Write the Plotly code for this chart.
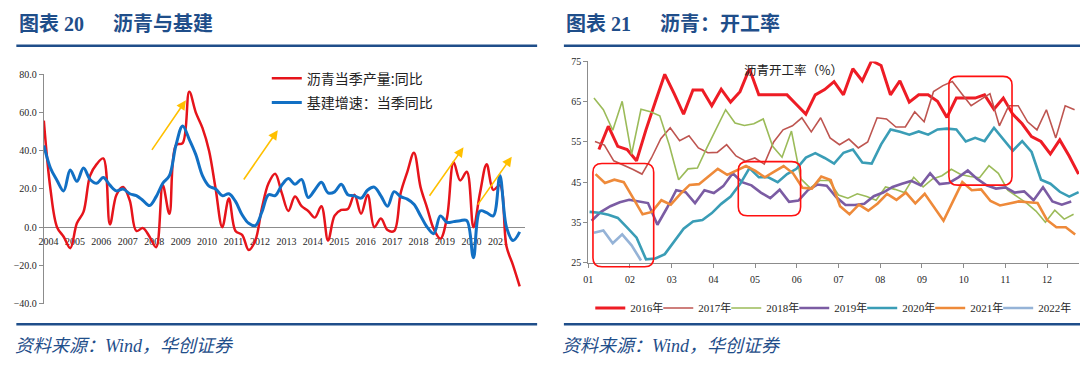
import numpy as np
import plotly.graph_objects as go

W, H = 1080, 377
def px(x): return x / W
def py(y): return 1 - y / H

# ---------------- left chart data (quarterly, 2004Q1 .. 2022Q1) ----------------
years = list(range(2004, 2022))
asphalt_yoy = [55.8, 20, 0, -5, -11, 2, 8, 27, 33, 36,
               1.5, 17, 21, 14, -2, -0.5, -5, -10.5, 22, 7,
               43, 44, 71, 60, 52, 40, 20, 0, 15, -2,
               -4, -12, -7, 10, 23, 28, 18, 8.5, 16, 11,
               8.5, 5, 11, -7, 6, 9, 9.5, 17, 7, 17,
               0, 4.5, -1.5, -2, 18, 29, 39, 21, 10, -1,
               -6, 5, 34, 24.5, 29, 0, 18, 33, 19.5, 22,
               -10, -20, -31]
infra_yoy = [42.8, 31, 24.5, 19, 30, 24, 31, 25, 23, 26,
             22, 19, 20, 17.5, 16.5, 14, 11.3, 16, 23, 27,
             43, 53, 46, 38, 27, 21.5, 20, 16.5, 17.5, 13.5,
             6.5, 2, 0.8, 8, 17, 16.5, 22, 25.5, 22.5, 25,
             15.5, 19.5, 23.5, 18, 18.5, 22.5, 17, 16.4, 15.2, 19.5,
             21, 16.4, 11, 18.6, 16, 14.7, 12, 6, 0, -3.4,
             5.9, 2.5, 2.9, 3.4, 3.4, -16, 8.5, 7.6, 5.9, 27,
             0, -7, -2.5]
left_names = ["沥青当季产量:同比", "基建增速：当季同比"]

# ---------------- right chart data (weekly operating rate, %) ----------------
month_labels = ["01", "02", "03", "04", "05", "06", "07", "08", "09", "10", "11", "12"]
series_names = ["2016年", "2017年", "2018年", "2019年", "2020年", "2021年", "2022年"]
WEEK = 0.2255  # one week in month units
week_start = [1.255, 1.160, 1.136, 1.079, 1.031, 1.174, 1.136]
r2016 = [53.1, 58.9, 53.9, 53.1, 50.3, 58.0, 65.0, 71.8, 67.0, 61.9,
         67.9, 67.9, 64.0, 68.1, 64.9, 67.5, 73.2, 66.7, 66.7, 66.7,
         66.7, 64.3, 61.9, 66.7, 68.0, 70.0, 66.7, 73.2, 70.2, 75.2,
         74.0, 66.7, 70.2, 64.9, 66.7, 66.7, 65.1, 61.1, 65.9, 65.9,
         65.9, 66.7, 63.1, 65.9, 61.9, 59.5, 56.3, 55.1, 52.0, 55.5,
         51.5, 47.0]
r2017 = [55.1, 54.2, 50.3, 49.3, 48.2, 47.0, 51.0, 55.8, 58.5, 55.3,
         56.5, 53.5, 52.3, 52.4, 54.3, 51.5, 50.2, 51.0, 49.5, 55.0,
         58.0, 59.0, 61.0, 57.5, 61.0, 56.0, 54.3, 55.7, 53.5, 55.0,
         61.0, 60.7, 58.7, 58.7, 62.5, 60.0, 67.5, 69.0, 70.0, 67.0,
         64.0, 65.5, 67.0, 59.0, 64.0, 64.0, 60.0, 58.0, 63.0, 56.0,
         64.0, 63.0]
r2018 = [65.9, 63.0, 57.9, 65.1, 51.9, 63.1, 62.5, 61.5, 54.3, 45.6,
         48.3, 48.5, 53.5, 58.3, 63.0, 59.7, 59.1, 59.5, 60.7, 53.9,
         51.2, 57.7, 45.8, 43.5, 45.4, 45.4, 41.8, 41.0, 42.1, 41.4,
         40.5, 43.8, 43.2, 42.4, 46.2, 43.8, 45.8, 46.6, 48.2, 46.9,
         46.4, 46.1, 49.1, 47.2, 43.0, 41.4, 39.8, 37.8, 35.0, 38.0,
         35.8, 37.0]
r2019 = [35.4, 37.6, 39.0, 40.0, 40.6, 40.2, 39.8, 34.4, 38.5, 43.0,
         42.5, 39.8, 43.0, 42.3, 44.0, 47.2, 45.0, 44.2, 42.4, 41.0,
         43.1, 40.1, 40.4, 43.0, 44.4, 44.1, 41.3, 39.3, 39.3, 39.6,
         41.5, 42.4, 43.8, 44.6, 45.3, 44.2, 47.2, 44.5, 44.8, 46.2,
         47.9, 45.8, 44.2, 43.4, 43.7, 42.4, 42.7, 40.5, 43.7, 40.2,
         39.4, 40.2]
r2020 = [37.6, 37.4, 36.9, 36.1, 33.7, 31.2, 25.8, 26.0, 27.1, 30.2,
         33.4, 35.2, 35.6, 37.3, 39.6, 41.4, 44.5, 48.5, 46.2, 46.2,
         45.0, 47.0, 48.3, 51.1, 52.2, 51.0, 49.6, 52.3, 53.1, 49.9,
         49.6, 54.4, 58.1, 57.5, 56.8, 57.6, 56.8, 58.1, 58.3, 58.1,
         55.1, 56.0, 55.2, 58.5, 55.7, 52.8, 55.2, 52.5, 45.6, 44.6,
         42.6, 41.4, 42.5]
r2021 = [47.0, 44.8, 45.6, 45.0, 41.0, 37.0, 37.6, 40.5, 39.4, 42.0,
         44.3, 44.5, 46.4, 48.3, 46.8, 48.0, 49.0, 47.8, 46.2, 47.6,
         49.0, 47.2, 43.6, 43.4, 46.4, 45.5, 39.0, 37.0, 39.4, 37.9,
         39.7, 42.1, 40.6, 42.4, 39.7, 42.1, 38.6, 35.4, 40.2, 45.0,
         43.0, 43.2, 40.3, 39.2, 39.7, 40.2, 40.0, 39.8, 35.6, 33.8,
         33.8, 32.0]
r2022 = [32.4, 33.0, 29.8, 32.0, 29.3, 25.5]
rates = [r2016, r2017, r2018, r2019, r2020, r2021, r2022]
colors = ["#EE1C25", "#BE5550", "#9BBB59", "#7B5CA3", "#3A9DB6", "#EE8A3A", "#95B3D7"]
widths = [3.0, 1.6, 1.6, 2.6, 2.6, 2.6, 2.6]

BLUE = "#1F4E8A"
SERIF = "Liberation Serif, Noto Sans CJK SC"
CJK = "Noto Sans CJK SC"

fig = go.Figure()

# left traces (one legend box per entry so rows sit exactly)
q = np.arange(len(asphalt_yoy))
fig.add_trace(go.Scatter(x=q, y=asphalt_yoy, mode="lines", name=left_names[0],
                         line=dict(color="#E6141B", width=2.5, shape="spline", smoothing=1.0),
                         xaxis="x", yaxis="y", legend="legend"))
fig.add_trace(go.Scatter(x=q, y=infra_yoy, mode="lines", name=left_names[1],
                         line=dict(color="#1270C4", width=3, shape="spline", smoothing=1.0),
                         xaxis="x", yaxis="y", legend="legend2"))

# right traces
for k, (name, vals, st, c, w) in enumerate(zip(series_names, rates, week_start, colors, widths)):
    xs = st + WEEK * np.arange(len(vals))
    fig.add_trace(go.Scatter(x=xs, y=vals, mode="lines", name=name,
                             line=dict(color=c, width=w),
                             xaxis="x2", yaxis="y2", legend=f"legend{k + 3}"))

tickfont = dict(family=SERIF, size=10, color="#262626")
layout = dict(
    width=W, height=H, autosize=False,
    margin=dict(l=0, r=0, t=0, b=0),
    paper_bgcolor="white", plot_bgcolor="rgba(0,0,0,0)",
    showlegend=True,
    xaxis=dict(domain=[px(39), px(522)], range=[0, 72.74], anchor="free", position=py(228.3),
               showline=True, linecolor="#8C8C8C", linewidth=1, showgrid=False, zeroline=False,
               tickmode="array", tickvals=[4 * (y - 2004) + 0.7 for y in years],
               ticktext=[str(y) for y in years], ticks="", tickfont=tickfont, ticklabelstandoff=5,
               layer="below traces", fixedrange=True),
    yaxis=dict(domain=[py(307.3), py(70.7)], range=[-40, 80], anchor="x",
               showline=True, linecolor="#8C8C8C", linewidth=1, showgrid=False, zeroline=False,
               dtick=20, tick0=0, tickformat=".1f", ticks="outside", ticklen=4, tickcolor="#8C8C8C",
               tickfont=tickfont, layer="below traces", fixedrange=True),
    xaxis2=dict(domain=[px(586), px(1079)], range=[1, 1 + 493 / 41.9], anchor="y2",
                showline=True, linecolor="#8C8C8C", linewidth=1, showgrid=False, zeroline=False,
                tickmode="array", tickvals=list(range(1, 13)), ticktext=month_labels,
                ticks="outside", ticklen=4, tickcolor="#8C8C8C", tickfont=tickfont, ticklabelstandoff=3,
                layer="below traces", fixedrange=True),
    yaxis2=dict(domain=[py(265), py(57.3)], range=[25, 75], anchor="x2",
                showline=True, linecolor="#8C8C8C", linewidth=1, showgrid=False, zeroline=False,
                dtick=10, tick0=25, ticks="outside", ticklen=4, tickcolor="#8C8C8C",
                tickfont=tickfont, layer="below traces", fixedrange=True),
)
left_leg_font = dict(family=CJK, size=14, color="#222222")
layout["legend"] = dict(x=px(263), y=py(75), xanchor="left", yanchor="middle",
                        font=left_leg_font, bgcolor="rgba(0,0,0,0)", itemwidth=30)
layout["legend2"] = dict(x=px(263), y=py(100), xanchor="left", yanchor="middle",
                         font=left_leg_font, bgcolor="rgba(0,0,0,0)", itemwidth=30)
for k in range(len(series_names)):
    layout[f"legend{k + 3}"] = dict(x=px(588 + 68.3 * k), y=py(312), xanchor="left", yanchor="middle",
                                    font=dict(family=SERIF, size=11, color="#262626"),
                                    bgcolor="rgba(0,0,0,0)", itemwidth=30)
fig.update_layout(**layout)

# rules
shapes = []
for x0, x1 in [(11.4, 534.6), (561.5, 1080)]:
    for yy in (41, 328.7):
        shapes.append(dict(type="line", xref="paper", yref="paper", x0=px(x0), x1=px(x1),
                           y0=py(yy), y1=py(yy), line=dict(color=BLUE, width=2.5)))

def rbox(x0, y0, x1, y1, r=9):
    P = lambda x, y: f"{px(x):.5f},{py(y):.5f}"
    return ("M" + P(x0 + r, y0) + " L" + P(x1 - r, y0) + " Q" + P(x1, y0) + " " + P(x1, y0 + r) +
            " L" + P(x1, y1 - r) + " Q" + P(x1, y1) + " " + P(x1 - r, y1) +
            " L" + P(x0 + r, y1) + " Q" + P(x0, y1) + " " + P(x0, y1 - r) +
            " L" + P(x0, y0 + r) + " Q" + P(x0, y0) + " " + P(x0 + r, y0) + " Z")

for b in [(590.7, 162.7, 651.7, 269.3), (736.7, 160.7, 799.3, 216.7), (948.3, 72.7, 1011.7, 185.0)]:
    shapes.append(dict(type="path", xref="paper", yref="paper", path=rbox(*b),
                       line=dict(color="#FF1010", width=1.6), fillcolor="rgba(0,0,0,0)"))
fig.update_layout(shapes=shapes)

ann = []
def text(x, y, s, size, color, family, xanchor="left"):
    ann.append(dict(x=px(x), y=py(y), xref="paper", yref="paper", text=s, showarrow=False,
                    xanchor=xanchor, yanchor="middle", font=dict(family=family, size=size, color=color)))

# titles
text(12, 19, "<b>图表 20</b>", 20, BLUE, SERIF)
text(106, 19, "<b>沥青与基建</b>", 20, BLUE, SERIF)
text(562, 19, "<b>图表 21</b>", 20, BLUE, SERIF)
text(656, 19, "<b>沥青：开工率</b>", 20, BLUE, SERIF)
# sources
text(8, 351, "<i>资料来源：Wind，华创证券</i>", 18, BLUE, SERIF)
text(558, 351, "<i>资料来源：Wind，华创证券</i>", 18, BLUE, SERIF)
# right chart label
text(792, 66, "沥青开工率（%）", 12.5, "#222222", CJK, xanchor="center")

# trend arrows on left chart (tail -> head, data coords)
arrows = [((16.2, 39.7), (21.5, 66.5)), ((30.1, 24.2), (35.4, 50.8)),
          ((58.2, 15.7), (63.5, 41.8)), ((65.5, 11.0), (70.8, 36.9))]
for (tx, ty), (hx, hy) in arrows:
    ann.append(dict(x=hx, y=hy, ax=tx, ay=ty, xref="x", yref="y", axref="x", ayref="y",
                    text="", showarrow=True, arrowhead=2, arrowsize=1.2, arrowwidth=1.6,
                    arrowcolor="#FFC000", standoff=0, startstandoff=0))
fig.update_layout(annotations=ann)

# the page's default body margin would shift the fixed-size figure by 8px
fig.write_html("out.html", config={"displayModeBar": False},
               post_script="document.body.style.margin='0';document.body.style.overflow='hidden';")
